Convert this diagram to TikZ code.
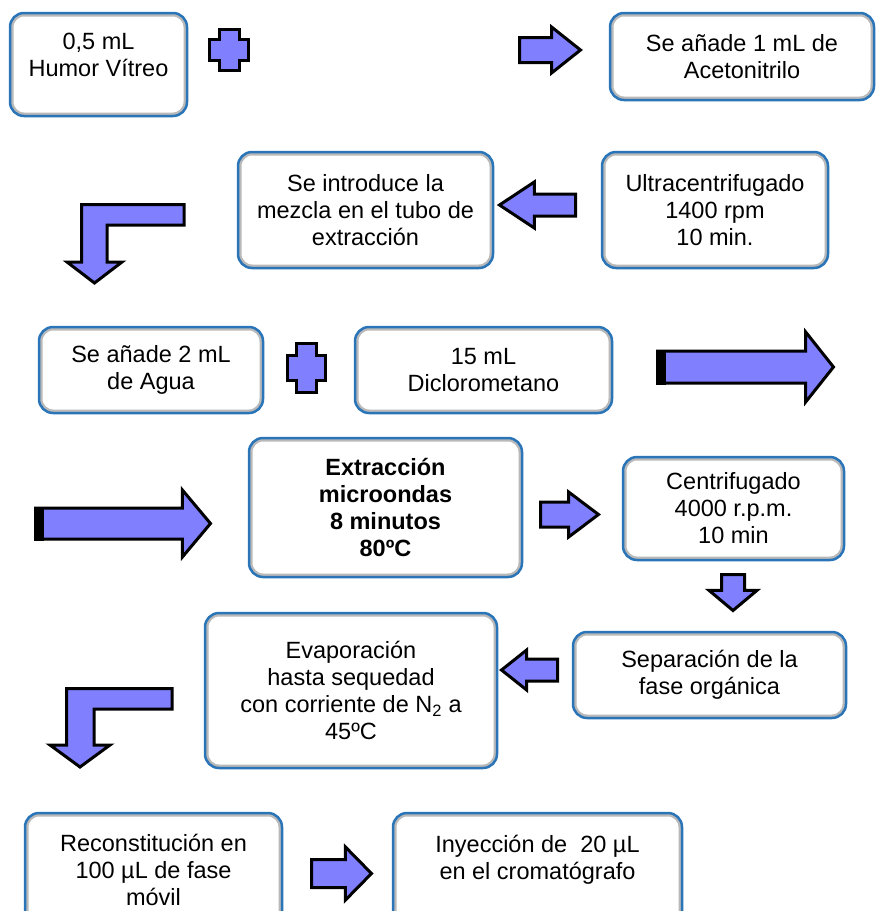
\documentclass[tikz,border=0pt]{standalone}
\usepackage{fontspec}
\setmainfont{Liberation Sans}
\usetikzlibrary{shapes.arrows, positioning}
\definecolor{boxblue}{HTML}{2A74B8}
\definecolor{boxgray}{HTML}{B9B9B9}
\definecolor{arrowfill}{HTML}{8080FF}

\tikzset{
  stepbox/.style={draw=boxblue, line width=2.5pt, fill=white, rounded corners=14pt,
    inner sep=0pt, align=center, font=\fontsize{23.5}{27}\selectfont,
    path picture={\draw[boxgray, line width=7pt, rounded corners=14pt]
      (path picture bounding box.south west) rectangle (path picture bounding box.north east);}},
  boldbox/.style={stepbox, font=\fontsize{23.5}{27}\selectfont\bfseries},
  blockarrow/.style={draw=black, line width=3pt, fill=arrowfill},
  flowarrow/.style={blockarrow, single arrow, single arrow head indent=0pt,
    inner sep=0pt, outer sep=0pt, text depth=0pt, anchor=tail}
}

\begin{document}
\begin{tikzpicture}[x=1pt, y=-1pt]
  \useasboundingbox (0,0) rectangle (876,911);
  \clip (0,0) rectangle (876,911);

  % First row
  \node[stepbox, minimum width=177pt, minimum height=103pt, text depth=20pt] (humor) at (98.5,64.5) {0,5 mL\\Humor Vítreo};
  \draw[blockarrow] (229,50) ++(-10,-20.5) -- ++(20,0) -- ++(0,10) -- ++(9.5,0) -- ++(0,21) -- ++(-9.5,0)
    -- ++(0,10) -- ++(-20,0) -- ++(0,-10) -- ++(-9.5,0) -- ++(0,-21) -- ++(9.5,0) -- cycle;
  \node[flowarrow, minimum height=61pt, text height=22pt, single arrow head extend=10.5pt,
    single arrow tip angle=77] (a1) at (519.5,50) {};
  \node[stepbox, minimum width=264pt, minimum height=87pt] (aceto) at (742,56.5) {Se añade 1 mL de\\Acetonitrilo};

  % Second row
  \node[stepbox, minimum width=226pt, minimum height=116pt] (ultra) at (715,210) {Ultracentrifugado\\1400 rpm\\10 min.};
  \node[flowarrow, rotate=180, minimum height=76pt, text height=19pt, single arrow head extend=12pt,
    single arrow tip angle=67] (a2) at (575.5,205) {};
  \node[stepbox, minimum width=255pt, minimum height=116pt] (tubo) at (365.5,210) {Se introduce la\\mezcla en el tubo de\\extracción};
  \draw[blockarrow] (184,204.5) -- (81.5,204.5) -- (81.5,262) -- (67,262) -- (94.5,283) -- (122,262)
    -- (107,262) -- (107,225) -- (184,225) -- cycle;

  % Third row
  \node[stepbox, minimum width=224pt, minimum height=86pt] (agua) at (151,370) {Se añade 2 mL\\de Agua};
  \draw[blockarrow] (306.5,368) ++(-10,-24.5) -- ++(20,0) -- ++(0,12) -- ++(9,0) -- ++(0,25) -- ++(-9,0)
    -- ++(0,12) -- ++(-20,0) -- ++(0,-12) -- ++(-9,0) -- ++(0,-25) -- ++(9,0) -- cycle;
  \node[stepbox, minimum width=257pt, minimum height=86pt] (dcm) at (483.5,370) {15 mL\\Diclorometano};
  \node[flowarrow, minimum height=176pt, text height=29pt, single arrow head extend=19pt,
    single arrow tip angle=103] (a3) at (657.5,367) {};
  \draw[black, fill=black, line width=3pt] (a3.after tail) rectangle ([xshift=7pt]a3.before tail);

  % Fourth row
  \node[flowarrow, minimum height=175pt, text height=28pt, single arrow head extend=18pt,
    single arrow tip angle=100] (a4) at (35.5,523.5) {};
  \draw[black, fill=black, line width=3pt] (a4.after tail) rectangle ([xshift=7pt]a4.before tail);
  \node[boldbox, minimum width=273pt, minimum height=139pt] (micro) at (385.5,507.5) {Extracción\\microondas\\8 minutos\\80ºC};
  \node[flowarrow, minimum height=58pt, text height=22pt, single arrow head extend=10pt,
    single arrow tip angle=74] (a5) at (540.5,514.5) {};
  \node[stepbox, minimum width=221pt, minimum height=103pt] (centri) at (733.5,508.5) {Centrifugado\\4000 r.p.m.\\10 min};
  \node[flowarrow, rotate=-90, minimum height=36pt, text height=20pt, single arrow head extend=12.5pt,
    single arrow tip angle=100] (a6) at (733,574.5) {};

  % Fifth row
  \node[stepbox, minimum width=273pt, minimum height=86pt] (organica) at (709.5,675) {Separación de la\\fase orgánica};
  \node[flowarrow, rotate=180, minimum height=56pt, text height=19pt, single arrow head extend=9pt,
    single arrow tip angle=77] (a7) at (557.5,670) {};
  \node[stepbox, minimum width=292pt, minimum height=155pt] (evapora) at (351,690.5) {Evaporación\\hasta sequedad\\con corriente de N\textsubscript{2} a\\45ºC};
  \draw[blockarrow] (172,688.5) -- (66.5,688.5) -- (66.5,745) -- (50,745) -- (80,767) -- (110,745)
    -- (94,745) -- (94,709) -- (172,709) -- cycle;

  % Last row
  \node[stepbox, minimum width=257pt, minimum height=114pt] (reconst) at (153.5,870) {Reconstitución en\\100 µL de fase\\móvil};
  \node[flowarrow, minimum height=60pt, text height=25pt, single arrow head extend=12.5pt,
    single arrow tip angle=91] (a8) at (311.5,873.5) {};
  \node[stepbox, minimum width=289pt, minimum height=114pt, text depth=25pt] (inyecta) at (537.5,870) {Inyección de\ \ 20 µL\\en el cromatógrafo};
\end{tikzpicture}
\end{document}
